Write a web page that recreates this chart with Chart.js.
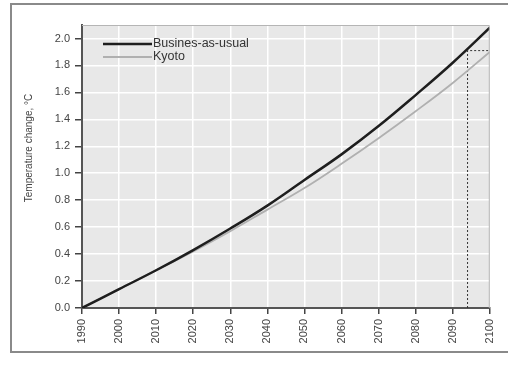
<!DOCTYPE html>
<html>
<head>
<meta charset="utf-8">
<script src="https://cdn.jsdelivr.net/npm/chart.js@4.4.0/dist/chart.umd.min.js"></script>
<style>
  html, body { margin: 0; padding: 0; background: #fff; }
  #wrap { width: 508px; height: 370px; }
</style>
</head>
<body>
<div id="wrap"><canvas id="tempChart" width="508" height="370"></canvas></div>
<script>
const years           = [1990, 2000, 2010, 2020, 2030, 2040, 2050, 2060, 2070, 2080, 2090, 2100]
const businessAsUsual = [0, 0.14, 0.28, 0.43, 0.59, 0.76, 0.95, 1.14, 1.35, 1.58, 1.82, 2.08]
const kyoto           = [0, 0.14, 0.28, 0.42, 0.57, 0.73, 0.89, 1.07, 1.26, 1.46, 1.67, 1.90]
const markerYears     = [2094, 2094, 2100]
const markerTemps     = [0, 1.91, 1.91]
const seriesNames     = ['Busines-as-usual', 'Kyoto']
const yTitle          = 'Temperature change, °C'

const toPoints = (xs, ys) => xs.map((x, i) => ({ x, y: ys[i] }))

// white page, outer frame, grey plot area
const framePlugin = {
  id: 'frame',
  beforeDraw(chart) {
    const { ctx, chartArea: a } = chart
    ctx.save()
    ctx.fillStyle = '#fff'
    ctx.fillRect(0, 0, chart.width, chart.height)
    ctx.strokeStyle = '#8a8a8a'
    ctx.lineWidth = 2
    ctx.strokeRect(11, 4, 540, 348)
    ctx.fillStyle = '#e8e8e8'
    ctx.fillRect(a.left, a.top, a.right - a.left, a.bottom - a.top)
    ctx.restore()
  },
  afterDatasetsDraw(chart) {
    const { ctx, chartArea: a } = chart
    ctx.save()
    ctx.strokeStyle = '#b5b5b5'
    ctx.lineWidth = 1
    ctx.beginPath()
    ctx.moveTo(a.left, a.top + 0.5); ctx.lineTo(a.right - 0.5, a.top + 0.5); ctx.lineTo(a.right - 0.5, a.bottom)
    ctx.stroke()

    // legend inside the plot, top left
    const lx = a.left + 21
    chart.data.datasets.slice(0, 2).forEach((ds, i) => {
      const y = a.top + 19 + i * 13
      ctx.strokeStyle = ds.borderColor
      ctx.lineWidth = ds.borderWidth
      ctx.beginPath(); ctx.moveTo(lx, y); ctx.lineTo(lx + 49, y); ctx.stroke()
      ctx.fillStyle = '#333'
      ctx.font = '12.5px "Liberation Sans", Arial, sans-serif'
      ctx.textBaseline = 'middle'
      ctx.fillText(ds.label, lx + 50, y)
    })

    // rotated y title
    ctx.translate(29, 148)
    ctx.rotate(-Math.PI / 2)
    ctx.fillStyle = '#444'
    ctx.font = '10px "Liberation Sans", Arial, sans-serif'
    ctx.textAlign = 'center'
    ctx.textBaseline = 'middle'
    ctx.fillText(yTitle, 0, 0)
    ctx.restore()
  },
}

new Chart(document.getElementById('tempChart'), {
  type: 'line',
  data: {
    datasets: [
      { label: seriesNames[0], data: toPoints(years, businessAsUsual), borderColor: '#1e1e1e', borderWidth: 2.5, pointRadius: 0, tension: 0.4, fill: false },
      { label: seriesNames[1], data: toPoints(years, kyoto), borderColor: '#b0b0b0', borderWidth: 1.8, pointRadius: 0, tension: 0.4, fill: false },
      { label: 'marker', data: toPoints(markerYears, markerTemps), borderColor: '#333', borderWidth: 1, borderDash: [2, 2], pointRadius: 0, tension: 0, fill: false },
    ],
  },
  options: {
    responsive: false, animation: false,
    layout: { padding: { left: 20, top: 25, right: 17, bottom: 18 } },
    plugins: { legend: { display: false }, tooltip: { enabled: false } },
    scales: {
      x: {
        type: 'linear', min: 1990, max: 2100,
        afterFit: s => { s.height = 44 },
        grid: { color: '#fff', lineWidth: 1.5, tickColor: '#444', tickLength: 6, tickWidth: 1.5 },
        border: { color: '#555', width: 2 },
        ticks: { stepSize: 10, autoSkip: false, minRotation: 90, maxRotation: 90, padding: 5, color: '#444', font: { family: 'Liberation Sans', size: 11 }, callback: v => String(v) },
      },
      y: {
        min: 0, max: 2.1,
        afterFit: s => { s.width = 62 },
        grid: { color: '#fff', lineWidth: 1.5, tickColor: '#444', tickLength: 7, tickWidth: 1.5 },
        border: { color: '#555', width: 2 },
        ticks: { stepSize: 0.2, includeBounds: false, padding: 5, color: '#444', font: { family: 'Liberation Sans', size: 11 }, callback: v => v.toFixed(1) },
      },
    },
  },
  plugins: [framePlugin],
})
</script>
</body>
</html>
